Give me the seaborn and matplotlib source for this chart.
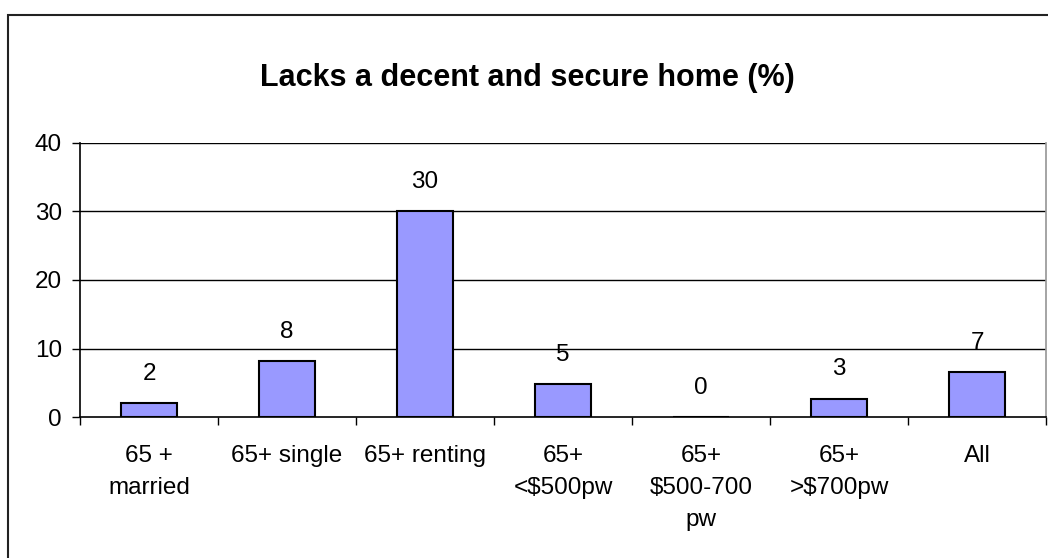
import matplotlib
matplotlib.use("Agg")
import matplotlib.pyplot as plt
import matplotlib.patches as mpatches
import seaborn as sns
import pandas as pd
import numpy as np

categories = ["65 +\nmarried", "65+ single", "65+ renting", "65+\n<$500pw",
              "65+\n$500-700\npw", "65+\n>$700pw", "All"]
values = [2.1, 8.2, 30.0, 4.8, 0.0, 2.7, 6.6]
value_labels = ["2", "8", "30", "5", "0", "3", "7"]
title = "Lacks a decent and secure home (%)"
yticks = [0, 10, 20, 30, 40]

sns.set_theme(style="white")
plt.rcParams['font.family'] = ['Liberation Sans', 'DejaVu Sans']
plt.rcParams['text.parse_math'] = False
plt.rcParams['text.color'] = 'black'
plt.rcParams['xtick.color'] = 'black'
plt.rcParams['ytick.color'] = 'black'
plt.rcParams['xtick.labelcolor'] = 'black'
plt.rcParams['ytick.labelcolor'] = 'black'

W, H = 1048, 558
fs = 17.5
fig = plt.figure(figsize=(W / 100, H / 100), dpi=100)
fig.patch.set_facecolor("white")

# outer frame
fig.add_artist(mpatches.Rectangle((8 / W, -0.05), 1.2, (H - 15) / H + 0.05,
                                  transform=fig.transFigure, fill=False,
                                  edgecolor="#222222", linewidth=1.5))

ax = fig.add_axes([80 / W, (H - 417) / H, (1046 - 80) / W, (417 - 143) / H])
df = pd.DataFrame({"cat": categories, "val": values})
sns.barplot(data=df, x="cat", y="val", color="#9999FF", edgecolor="black",
            linewidth=1.5, width=0.41, saturation=1, ax=ax)

ax.bar_label(ax.containers[0], labels=value_labels, padding=13, fontsize=fs,
             color="black")

ax.set_ylim(0, 40)
ax.set_xlim(-0.5, len(categories) - 0.5)
ax.set_yticks(yticks)
ax.set_yticklabels([str(t) for t in yticks], fontsize=fs)
ax.set_xlabel("")
ax.set_ylabel("")
ax.set_xticks(range(len(categories)))
ax.set_xticklabels(categories, fontsize=fs, linespacing=1.6)
ax.set_xticks(np.arange(-0.5, len(categories)), minor=True)
ax.tick_params(axis="x", which="major", length=0, pad=20)
ax.tick_params(axis="x", which="minor", length=6, width=1, color="black", direction="out", bottom=True)
ax.tick_params(axis="y", length=6, width=1, color="black", direction="out", left=True, pad=7)
for v in yticks[1:]:
    ax.axhline(v, color="black", linewidth=1, zorder=0)
ax.spines["top"].set_visible(False)
ax.spines["right"].set_color("#999999")
ax.spines["left"].set_color("black")
ax.spines["bottom"].set_color("black")
ax.spines["left"].set_linewidth(1.2)
ax.spines["bottom"].set_linewidth(1.2)

fig.text(527 / W, 1 - 78 / H, title, ha="center", va="center",
         fontsize=22, fontweight="bold", color="black")

fig.savefig("out.png", dpi=100)
